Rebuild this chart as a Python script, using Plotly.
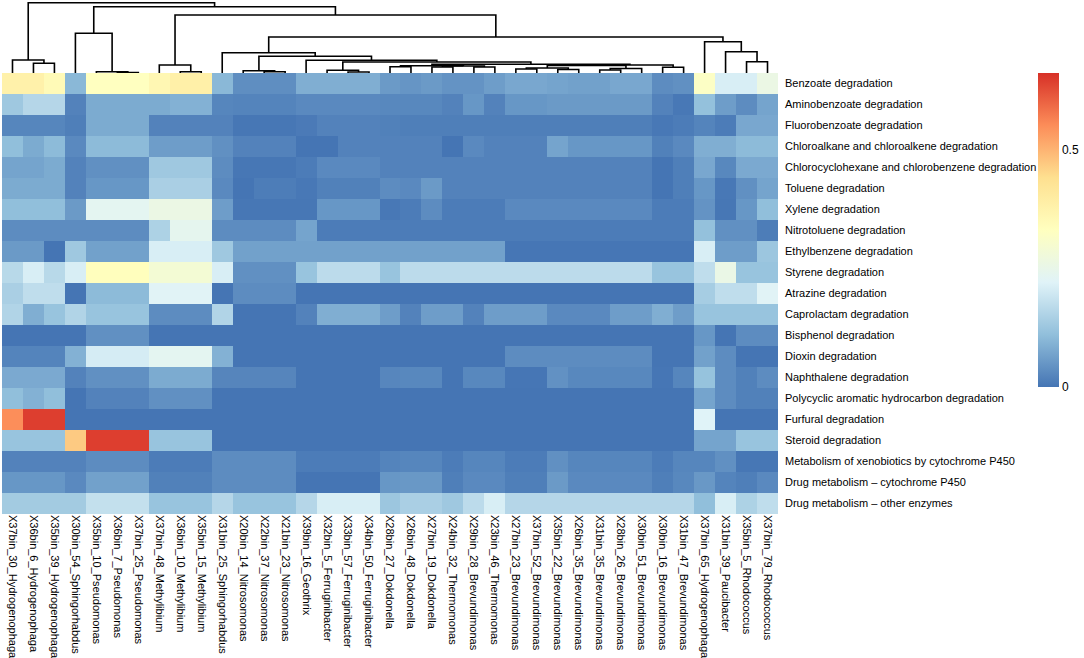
import plotly.graph_objects as go

pathways = [
    "Benzoate degradation", "Aminobenzoate degradation", "Fluorobenzoate degradation",
    "Chloroalkane and chloroalkene degradation", "Chlorocyclohexane and chlorobenzene degradation",
    "Toluene degradation", "Xylene degradation", "Nitrotoluene degradation",
    "Ethylbenzene degradation", "Styrene degradation", "Atrazine degradation",
    "Caprolactam degradation", "Bisphenol degradation", "Dioxin degradation",
    "Naphthalene degradation", "Polycyclic aromatic hydrocarbon degradation",
    "Furfural degradation", "Steroid degradation",
    "Metabolism of xenobiotics by cytochrome P450", "Drug metabolism \u2013 cytochrome P450",
    "Drug metabolism \u2013 other enzymes",
]

samples = [
    "X37bin_30_Hydrogenophaga", "X36bin_6_Hydrogenophaga", "X35bin_39_Hydrogenophaga",
    "X30bin_54_Sphingorhabdus", "X35bin_10_Pseudomonas", "X36bin_7_Pseudomonas",
    "X37bin_25_Pseudomonas", "X37bin_48_Methylibium", "X36bin_10_Methylibium",
    "X35bin_15_Methylibium", "X31bin_25_Sphingorhabdus", "X20bin_14_Nitrosomonas",
    "X22bin_37_Nitrosomonas", "X21bin_23_Nitrosomonas", "X39bin_16_Geothrix",
    "X32bin_5_Ferruginibacter", "X33bin_57_Ferruginibacter", "X34bin_50_Ferruginibacter",
    "X28bin_27_Dokdonella", "X26bin_48_Dokdonella", "X27bin_19_Dokdonella",
    "X24bin_32_Thermomonas", "X29bin_28_Brevundimonas", "X23bin_46_Thermomonas",
    "X27bin_23_Brevundimonas", "X37bin_52_Brevundimonas", "X35bin_22_Brevundimonas",
    "X26bin_35_Brevundimonas", "X31bin_35_Brevundimonas", "X28bin_26_Brevundimonas",
    "X30bin_51_Brevundimonas", "X30bin_16_Brevundimonas", "X31bin_47_Brevundimonas",
    "X37bin_65_Hydrogenophaga", "X31bin_39_Paucibacter", "X35bin_5_Rhodococcus",
    "X37bin_79_Rhodococcus",
]

benzoate = [0.38, 0.38, 0.35, 0.10, 0.33, 0.33, 0.33, 0.36, 0.385, 0.385, 0.10, 0.038, 0.038, 0.038, 0.085, 0.085, 0.085, 0.085, 0.055,
            0.048, 0.055, 0.045, 0.045, 0.06, 0.075, 0.075, 0.07, 0.065, 0.065, 0.075, 0.075, 0.035, 0.04, 0.32, 0.21, 0.21, 0.26]
aminobenzoate = [0.13, 0.16, 0.16, 0.02, 0.08, 0.08, 0.08, 0.08, 0.09, 0.09, 0.025, 0.022, 0.022, 0.022, 0.03, 0.03, 0.03, 0.03, 0.028,
                 0.028, 0.028, 0.02, 0.05, 0.02, 0.05, 0.05, 0.055, 0.055, 0.055, 0.055, 0.055, 0.02, 0.005, 0.115, 0.06, 0.035, 0.07]
fluorobenzoate = [0.025, 0.025, 0.025, 0.015, 0.08, 0.08, 0.08, 0.02, 0.02, 0.02, 0.02, 0.003, 0.003, 0.003, 0.008, 0.02, 0.02, 0.02, 0.018,
                  0.015, 0.015, 0.015, 0.015, 0.015, 0.015, 0.015, 0.015, 0.015, 0.015, 0.015, 0.015, 0.005, 0.01, 0.022, 0.01, 0.075, 0.075]
chloroalkane = [0.11, 0.08, 0.105, 0.03, 0.105, 0.105, 0.105, 0.06, 0.06, 0.06, 0.04, 0.02, 0.02, 0.02, 0.0, 0.0, 0.02, 0.02, 0.02,
                0.02, 0.02, 0.0, 0.03, 0.02, 0.02, 0.02, 0.07, 0.05, 0.05, 0.05, 0.05, 0.018, 0.03, 0.085, 0.085, 0.105, 0.105]
chlorocyclohexane = [0.07, 0.07, 0.08, 0.02, 0.04, 0.04, 0.04, 0.13, 0.13, 0.13, 0.035, 0.003, 0.003, 0.003, 0.01, 0.03, 0.03, 0.03, 0.02,
                     0.02, 0.02, 0.02, 0.02, 0.02, 0.02, 0.02, 0.02, 0.02, 0.02, 0.02, 0.02, 0.0, 0.015, 0.075, 0.028, 0.078, 0.078]
toluene = [0.08, 0.08, 0.08, 0.02, 0.05, 0.05, 0.05, 0.145, 0.145, 0.145, 0.03, 0.0, 0.012, 0.012, 0.005, 0.018, 0.018, 0.018, 0.035,
           0.03, 0.055, 0.02, 0.02, 0.02, 0.02, 0.02, 0.02, 0.02, 0.02, 0.02, 0.02, 0.0, 0.015, 0.05, 0.005, 0.04, 0.07]
xylene = [0.11, 0.11, 0.11, 0.055, 0.235, 0.235, 0.235, 0.26, 0.26, 0.26, 0.06, 0.003, 0.003, 0.003, 0.003, 0.05, 0.05, 0.05, 0.005,
          0.01, 0.035, 0.01, 0.01, 0.01, 0.03, 0.03, 0.03, 0.03, 0.03, 0.03, 0.03, 0.01, 0.01, 0.045, 0.003, 0.05, 0.11]
nitrotoluene = [0.035, 0.035, 0.035, 0.035, 0.035, 0.035, 0.035, 0.15, 0.24, 0.24, 0.035, 0.035, 0.035, 0.035, 0.07, 0.01, 0.01, 0.01, 0.01,
                0.01, 0.01, 0.01, 0.01, 0.01, 0.01, 0.01, 0.01, 0.01, 0.01, 0.01, 0.01, 0.01, 0.01, 0.115, 0.04, 0.04, 0.012]
ethylbenzene = [0.055, 0.055, 0.0, 0.13, 0.065, 0.065, 0.065, 0.21, 0.21, 0.21, 0.13, 0.065, 0.065, 0.065, 0.065, 0.065, 0.065, 0.065, 0.065,
                0.065, 0.065, 0.065, 0.065, 0.065, 0.002, 0.002, 0.002, 0.002, 0.002, 0.002, 0.002, 0.002, 0.002, 0.21, 0.06, 0.06, 0.125]
styrene = [0.165, 0.21, 0.165, 0.21, 0.335, 0.335, 0.335, 0.29, 0.29, 0.29, 0.21, 0.04, 0.04, 0.04, 0.12, 0.17, 0.17, 0.17, 0.12,
           0.17, 0.17, 0.17, 0.17, 0.17, 0.17, 0.17, 0.17, 0.17, 0.17, 0.17, 0.17, 0.12, 0.12, 0.175, 0.255, 0.12, 0.12]
atrazine = [0.145, 0.175, 0.175, 0.0, 0.105, 0.105, 0.105, 0.225, 0.225, 0.225, 0.0, 0.035, 0.035, 0.035, 0.0, 0.0, 0.0, 0.0, 0.0,
            0.0, 0.0, 0.0, 0.0, 0.0, 0.0, 0.0, 0.0, 0.0, 0.0, 0.0, 0.0, 0.0, 0.0, 0.14, 0.175, 0.175, 0.225]
caprolactam = [0.155, 0.085, 0.12, 0.155, 0.12, 0.12, 0.12, 0.035, 0.035, 0.035, 0.155, 0.0, 0.0, 0.0, 0.02, 0.085, 0.085, 0.085, 0.06,
               0.02, 0.06, 0.06, 0.02, 0.06, 0.06, 0.06, 0.03, 0.03, 0.03, 0.06, 0.06, 0.085, 0.06, 0.12, 0.12, 0.12, 0.12]
bisphenol = [0.0, 0.0, 0.0, 0.0, 0.04, 0.04, 0.04, 0.0, 0.0, 0.0, 0.0, 0.0, 0.0, 0.0, 0.0, 0.0, 0.0, 0.0, 0.0,
             0.0, 0.0, 0.0, 0.0, 0.0, 0.0, 0.0, 0.0, 0.0, 0.0, 0.0, 0.0, 0.0, 0.0, 0.05, 0.0, 0.035, 0.035]
dioxin = [0.022, 0.022, 0.022, 0.09, 0.205, 0.205, 0.205, 0.235, 0.235, 0.235, 0.09, 0.0, 0.0, 0.0, 0.0, 0.0, 0.0, 0.0, 0.0,
          0.0, 0.0, 0.0, 0.0, 0.0, 0.035, 0.035, 0.035, 0.035, 0.035, 0.035, 0.035, 0.0, 0.0, 0.065, 0.035, 0.0, 0.0]
naphthalene = [0.078, 0.078, 0.078, 0.02, 0.04, 0.04, 0.04, 0.08, 0.08, 0.08, 0.024, 0.024, 0.024, 0.024, 0.0, 0.0, 0.0, 0.0, 0.026,
               0.028, 0.028, 0.0, 0.028, 0.028, 0.002, 0.002, 0.042, 0.028, 0.028, 0.028, 0.028, 0.002, 0.025, 0.118, 0.035, 0.018, 0.035]
polycyclic = [0.11, 0.09, 0.11, 0.0, 0.02, 0.02, 0.02, 0.04, 0.04, 0.04, 0.0, 0.0, 0.0, 0.0, 0.0, 0.0, 0.0, 0.0, 0.0,
              0.0, 0.0, 0.0, 0.0, 0.0, 0.0, 0.0, 0.0, 0.0, 0.0, 0.0, 0.0, 0.0, 0.0, 0.07, 0.035, 0.018, 0.018]
furfural = [0.55, 0.645, 0.645, 0.0, 0.0, 0.0, 0.0, 0.0, 0.0, 0.0, 0.0, 0.0, 0.0, 0.0, 0.0, 0.0, 0.0, 0.0, 0.0,
            0.0, 0.0, 0.0, 0.0, 0.0, 0.0, 0.0, 0.0, 0.0, 0.0, 0.0, 0.0, 0.0, 0.0, 0.22, 0.0, 0.0, 0.0]
steroid = [0.12, 0.12, 0.12, 0.47, 0.645, 0.645, 0.645, 0.12, 0.12, 0.12, 0.0, 0.0, 0.0, 0.0, 0.0, 0.0, 0.0, 0.0, 0.0,
           0.0, 0.0, 0.0, 0.0, 0.0, 0.0, 0.0, 0.0, 0.0, 0.0, 0.0, 0.0, 0.0, 0.0, 0.07, 0.07, 0.12, 0.12]
xenobiotics_p450 = [0.02, 0.02, 0.02, 0.02, 0.035, 0.035, 0.035, 0.01, 0.01, 0.01, 0.035, 0.035, 0.035, 0.035, 0.01, 0.01, 0.01, 0.01, 0.022,
                    0.025, 0.025, 0.01, 0.025, 0.025, 0.01, 0.01, 0.04, 0.025, 0.025, 0.025, 0.025, 0.01, 0.025, 0.025, 0.04, 0.003, 0.003]
drug_p450 = [0.05, 0.05, 0.05, 0.03, 0.065, 0.065, 0.065, 0.018, 0.018, 0.018, 0.035, 0.035, 0.035, 0.035, 0.0, 0.0, 0.0, 0.0, 0.05,
             0.052, 0.052, 0.015, 0.03, 0.03, 0.015, 0.015, 0.055, 0.03, 0.03, 0.03, 0.03, 0.015, 0.028, 0.052, 0.022, 0.015, 0.03]
drug_other = [0.135, 0.135, 0.135, 0.135, 0.18, 0.18, 0.18, 0.12, 0.12, 0.12, 0.16, 0.12, 0.12, 0.12, 0.16, 0.21, 0.21, 0.21, 0.125,
              0.145, 0.145, 0.13, 0.17, 0.21, 0.16, 0.16, 0.16, 0.16, 0.16, 0.16, 0.16, 0.16, 0.16, 0.11, 0.21, 0.15, 0.175]

values = [benzoate, aminobenzoate, fluorobenzoate, chloroalkane, chlorocyclohexane, toluene,
          xylene, nitrotoluene, ethylbenzene, styrene, atrazine, caprolactam, bisphenol, dioxin,
          naphthalene, polycyclic, furfural, steroid, xenobiotics_p450, drug_p450, drug_other]

colorbar_ticks = [0, 0.5]
zmax = 0.662

# column dendrogram (merges in leaf order; "mK" refers to merge K)
merge_left = [1, 0, 5, 4, 3, 8, 7, 12, 11, 16, 15, 18, 20, 22, "m12", "m11", 24, 26, "m16", 28,
              "m19", "m18", 31, "m21", "m15", "m10", 14, "m8", 10, 35, 34, 33, "m28", "m6", "m4", "m1"]
merge_right = [2, "m0", 6, "m2", "m3", 9, "m5", 13, "m7", 17, "m9", 19, 21, 23, "m13", "m14", 25, 27, "m17", 29,
               30, "m20", 32, "m22", "m23", "m24", "m25", "m26", "m27", 36, "m29", "m30", "m31", "m32", "m33", "m34"]
merge_height = [9.7, 13, 0.5, 1.3, 39.7, 1.3, 8, 1.3, 2.3, 1, 2.7, 6.3, 6, 6, 7, 7.3, 4, 3.5, 5, 3,
                4.5, 7.6, 5.7, 8.0, 8.7, 11, 12.7, 16.7, 20.3, 11.3, 21.3, 31.3, 36, 58, 66.3, 70.3]

colors = ["#4575B4", "#91BFDB", "#E0F3F8", "#FFFFBF", "#FEE090", "#FC8D59", "#D73027"]
colorscale = [[i / (len(colors) - 1), c] for i, c in enumerate(colors)]

W, H = 1084, 658
hm_x0, hm_x1 = 2, 778
hm_y0, hm_y1 = 73, 514


def node_pos(ref, pos):
    if isinstance(ref, str):
        return pos[ref]
    return (ref, 0.0)


pos = {}
dx, dy = [], []
for k, (a, b, h) in enumerate(zip(merge_left, merge_right, merge_height)):
    xa, ha = node_pos(a, pos)
    xb, hb = node_pos(b, pos)
    dx += [xa, xa, xb, xb, None]
    dy += [ha, h, h, hb, None]
    pos["m%d" % k] = ((xa + xb) / 2, h)

fig = go.Figure()
fig.add_trace(go.Heatmap(
    z=values, x=list(range(len(samples))), y=list(range(len(pathways))),
    colorscale=colorscale, zmin=0, zmax=zmax, xgap=0, ygap=0,
    hoverinfo="skip",
    colorbar=dict(
        x=1038 / W, xanchor="left", y=1 - hm_y0 / H, yanchor="top",
        len=(387 - hm_y0) / H, lenmode="fraction", thickness=21, thicknessmode="pixels",
        outlinewidth=0, tickvals=colorbar_ticks, ticktext=["0", "0.5"], ticks="",
        tickfont=dict(size=12, color="#000"), xpad=0, ypad=0,
    ),
))
fig.add_trace(go.Scatter(
    x=dx, y=dy, mode="lines", xaxis="x2", yaxis="y2",
    line=dict(color="#000", width=1.6), hoverinfo="skip", showlegend=False,
))

fig.update_layout(
    width=W, height=H,
    margin=dict(l=0, r=0, t=0, b=0),
    paper_bgcolor="white", plot_bgcolor="white",
    font=dict(family="Liberation Sans, Arial, sans-serif", size=11, color="#000"),
    xaxis=dict(domain=[hm_x0 / W, hm_x1 / W], range=[-0.5, len(samples) - 0.5],
               tickvals=list(range(len(samples))), ticktext=samples, tickangle=90,
               showgrid=False, zeroline=False, showline=False, ticks="", automargin=False,
               anchor="y", fixedrange=True, ticklabelstandoff=0),
    yaxis=dict(domain=[1 - hm_y1 / H, 1 - hm_y0 / H], range=[len(pathways) - 0.5, -0.5],
               tickvals=list(range(len(pathways))), ticktext=pathways, side="right",
               showgrid=False, zeroline=False, showline=False, ticks="", automargin=False,
               anchor="x", ticklabelstandoff=6),
    xaxis2=dict(domain=[hm_x0 / W, hm_x1 / W], range=[-0.5, len(samples) - 0.5],
                visible=False, anchor="y2"),
    yaxis2=dict(domain=[1 - hm_y0 / H, 1 - 1 / H], range=[0, 72], visible=False, anchor="x2"),
    showlegend=False,
)

fig.write_html("out.html", config={"displayModeBar": False, "staticPlot": True},
               post_script="document.body.style.margin='0';document.body.style.overflow='hidden';")
